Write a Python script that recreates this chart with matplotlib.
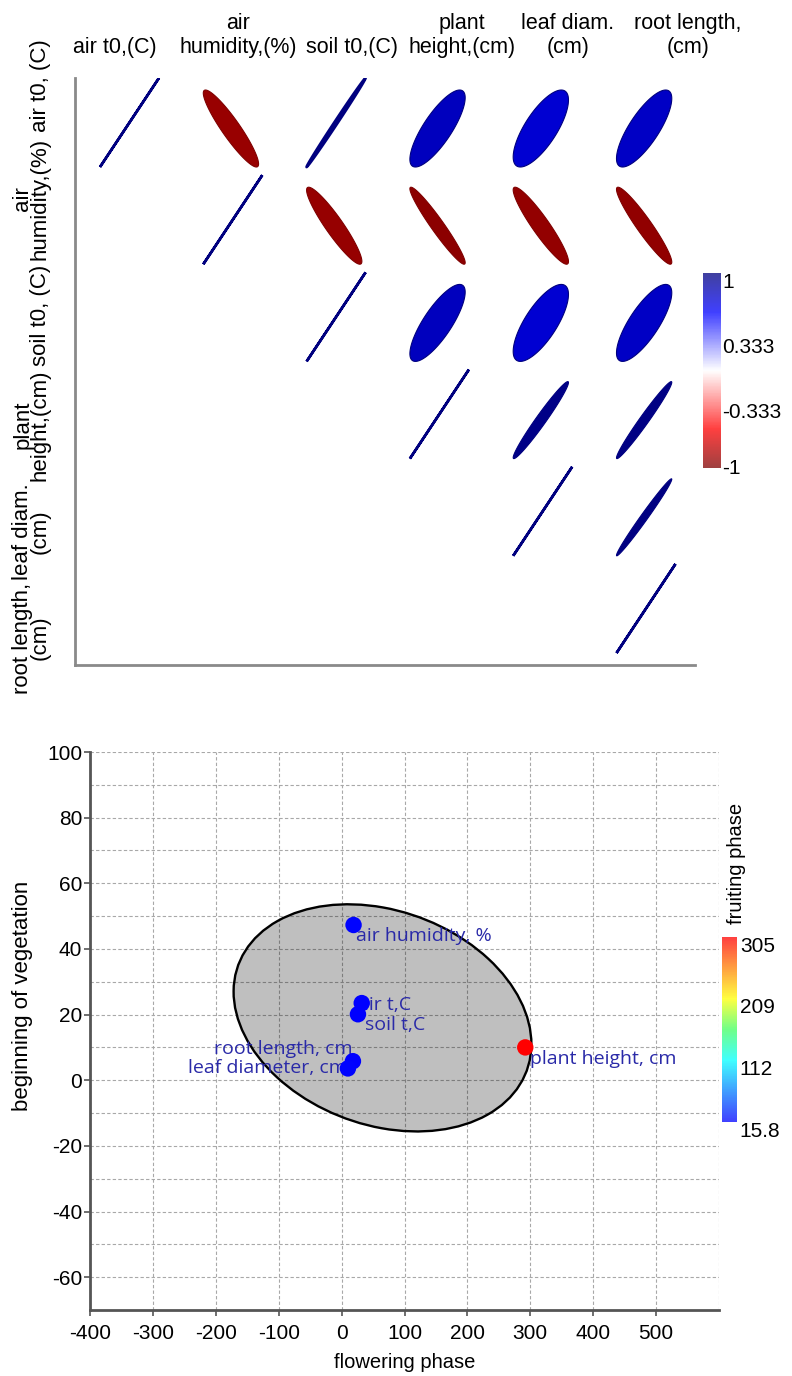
import numpy as np
import matplotlib
matplotlib.use("Agg")
import matplotlib.pyplot as plt
from matplotlib.colors import LinearSegmentedColormap, Normalize
from matplotlib.patches import Ellipse, Polygon
from matplotlib.cm import ScalarMappable

# ---------------- data: correlation panel ----------------
col_labels = ["air t0,(C)", "air\nhumidity,(%)", "soil t0,(C)",
              "plant\nheight,(cm)", "leaf diam.\n(cm)", "root length,\n(cm)"]
row_labels = ["air t0, (C)", "air\nhumidity,(%)", "soil t0, (C)",
              "plant\nheight,(cm)", "leaf diam.\n(cm)", "root length,\n(cm)"]
corr_air_t    = [1.000, -0.920, 0.998, 0.800, 0.740, 0.780]
corr_humidity = [-0.920, 1.000, -0.925, -0.960, -0.930, -0.945]
corr_soil_t   = [0.998, -0.925, 1.000, 0.800, 0.740, 0.780]
corr_plant_h  = [0.800, -0.960, 0.800, 1.000, 0.975, 0.980]
corr_leaf_d   = [0.740, -0.930, 0.740, 0.975, 1.000, 0.988]
corr_root_l   = [0.780, -0.945, 0.780, 0.980, 0.988, 1.000]
corr_ticks = [1, 0.333, -0.333, -1]
corr_tick_labels = ["1", "0.333", "-0.333", "-1"]

# ---------------- data: scatter panel ----------------
point_labels = ["air humidity, %", "air t,C", "soil t,C",
                "root length, cm", "leaf diameter, cm", "plant height, cm"]
flowering = [19, 32, 26, 18, 10, 292]
vegetation = [47.3, 23.5, 20.1, 5.8, 3.6, 10.0]
fruiting = [17, 16, 16.5, 15.8, 18, 305]
ell_center = (65, 19)
ell_sd_x, ell_sd_y, ell_cov_xy = 236.7, 34.6, -1890.0
fruit_ticks = [15.8, 112, 209, 305]
fruit_tick_labels = ["15.8", "112", "209", "305"]
x_ticks = [-400, -300, -200, -100, 0, 100, 200, 300, 400, 500]
y_ticks = [-60, -40, -20, 0, 20, 40, 60, 80, 100]

# ---------------- figure ----------------
W, H, DPI = 792, 1376, 100
plt.rcParams["font.family"] = ["Liberation Sans", "DejaVu Sans"]
plt.rcParams["axes.unicode_minus"] = False
fig = plt.figure(figsize=(W / DPI, H / DPI), dpi=DPI)


def rect(x0, y0, x1, y1):
    return [x0 / W, 1 - y1 / H, (x1 - x0) / W, (y1 - y0) / H]


def fx(px):
    return px / W


def fy(py):
    return 1 - py / H


# ---------------- top: correlation ellipses ----------------
corr = np.array([corr_air_t, corr_humidity, corr_soil_t,
                 corr_plant_h, corr_leaf_d, corr_root_l])
n = corr.shape[0]
corr_cmap = LinearSegmentedColormap.from_list(
    "corr", [(0.0, "#7f0000"), (0.2, "#ff0000"), (0.5, "#ffffff"),
             (0.8, "#0000ff"), (1.0, "#00007f")])
corr_norm = Normalize(-1, 1)

ax1 = fig.add_axes(rect(75, 78, 695, 665))
ax1.set_xlim((75 - 100) / 103.3, (695 - 100) / 103.3)
ax1.set_ylim((665 - 167) / 97.2, (78 - 167) / 97.2)
for s in ["top", "right"]:
    ax1.spines[s].set_visible(False)
for s in ["left", "bottom"]:
    ax1.spines[s].set_color("#8a8a8a")
    ax1.spines[s].set_linewidth(2.0)
ax1.set_xticks([])
ax1.set_yticks([])

t = np.linspace(0, 2 * np.pi, 200)
for i in range(n):
    for j in range(i, n):
        r = corr[i, j]
        d = np.arccos(np.clip(r, -1, 1))
        u = np.cos(t + d / 2)
        v = np.cos(t - d / 2)
        if abs(r) >= 0.995:
            w, h, lw = 0.571, 0.916, 1.9
        else:
            w, h, lw = 0.535, 0.792, 0.8
        xs = j + (u + 1) / 2 * w
        ys = i - (v + 1) / 2 * h
        face = corr_cmap(corr_norm(r))
        edge = corr_cmap(corr_norm(np.sign(r)))
        ax1.add_patch(Polygon(np.column_stack([xs, ys]), closed=True,
                              facecolor=face, edgecolor=edge, linewidth=lw))

col_label_x = [115, 238, 352, 462, 568, 688]
row_label_y = [86, 199, 315, 425, 532, 638]
for px, lab in zip(col_label_x, col_labels):
    fig.text(fx(px), fy(58), lab, ha="center", va="bottom",
             fontsize=15.5, linespacing=1.2, multialignment="center")
for py, lab in zip(row_label_y, row_labels):
    fig.text(fx(51), fy(py), lab, ha="right", va="center",
             rotation=90, fontsize=16, linespacing=0.8,
             multialignment="center")

cax1 = fig.add_axes(rect(703, 273, 721, 468))
cb1 = fig.colorbar(ScalarMappable(norm=corr_norm, cmap=corr_cmap), cax=cax1,
                   alpha=0.75)
cb1.outline.set_visible(False)
cb1.set_ticks(corr_ticks)
cb1.set_ticklabels(corr_tick_labels)
cax1.tick_params(length=0, labelsize=15, pad=1)
for lab in cax1.get_yticklabels():
    lab.set_va("top" if lab.get_text() != "-1" else "center")

# ---------------- bottom: scatter with ellipse ----------------
fruit_cmap = LinearSegmentedColormap.from_list(
    "fruit", [(0.0, "#0000ff"), (0.17, "#0080ff"), (0.333, "#00ffff"),
              (0.5, "#40ff60"), (0.667, "#ffff00"), (0.833, "#ff8000"),
              (1.0, "#ff0000")])
fruit_norm = Normalize(min(fruiting), max(fruiting))

ax2 = fig.add_axes(rect(90, 752, 719, 1310))
ax2.set_xlim(-400, 600)
ax2.set_ylim(-70, 100)
ax2.set_xticks(x_ticks)
ax2.set_xticks([600], minor=True)
ax2.set_yticks(y_ticks)
ax2.set_yticks([v for v in range(-70, 101, 10) if v % 20 != 0 and v > -70],
               minor=True)
ax2.set_axisbelow(True)
ax2.grid(True, which="both", color="#a8a8a8", linestyle=(0, (3, 2)),
         linewidth=0.8)
for s in ["top", "right"]:
    ax2.spines[s].set_visible(False)
for s in ["left", "bottom"]:
    ax2.spines[s].set_color("#555555")
    ax2.spines[s].set_linewidth(2.0)
ax2.tick_params(which="major", length=4, width=1.2, color="#555555",
                labelsize=15)
ax2.tick_params(axis="y", which="major", pad=1.5)
ax2.tick_params(axis="x", which="major", pad=6)
ax2.tick_params(which="minor", length=0)

cov = np.array([[ell_sd_x ** 2, ell_cov_xy], [ell_cov_xy, ell_sd_y ** 2]])
evals, evecs = np.linalg.eigh(cov)
major = evecs[:, 1]
angle = np.degrees(np.arctan2(major[1], major[0]))
ax2.add_patch(Ellipse(ell_center, 2 * np.sqrt(evals[1]), 2 * np.sqrt(evals[0]),
                      angle=angle, facecolor=(0, 0, 0, 0.25),
                      edgecolor="black", linewidth=1.7, zorder=2))

ax2.scatter(flowering, vegetation, c=fruiting, cmap=fruit_cmap,
            norm=fruit_norm, s=140, linewidths=0, zorder=4)

label_style = [  # (dx pt, dy pt, ha, va)
    (2.0, -1.5, "left", "top"),
    (-2.5, -8.0, "left", "bottom"),
    (5.0, -1.5, "left", "top"),
    (0.0, 2.0, "right", "bottom"),
    (-0.8, 0.0, "right", "center"),
    (3.6, -2.0, "left", "top"),
]
for lab, x, y, (dx, dy, ha, va) in zip(point_labels, flowering, vegetation,
                                       label_style):
    ax2.annotate(lab, (x, y), xytext=(dx, dy), textcoords="offset points",
                 ha=ha, va=va, fontsize=14, color="#2a2aa8",
                 family=["Open Sans", "DejaVu Sans"], zorder=3)

ax2.set_xlabel("flowering phase", fontsize=14.5)
ax2.xaxis.set_label_coords(0.5, (1310 - 1353) / 558)
ax2.xaxis.label.set_va("top")
ax2.set_ylabel("beginning of vegetation", fontsize=16)
ax2.yaxis.set_label_coords((33 - 90) / 629, (1310 - 996) / 558)

cax2 = fig.add_axes(rect(722, 937, 737, 1122))
cb2 = fig.colorbar(ScalarMappable(norm=fruit_norm, cmap=fruit_cmap), cax=cax2,
                   alpha=0.75)
cb2.outline.set_visible(False)
cb2.set_ticks(fruit_ticks)
cb2.set_ticklabels(fruit_tick_labels)
cax2.tick_params(length=0, labelsize=15, pad=2)
for lab in cax2.get_yticklabels():
    lab.set_va("top")
fig.text(fx(736), fy(924), "fruiting phase", rotation=90, ha="center",
         va="bottom", fontsize=14.5)

fig.savefig("out.png", dpi=DPI)
